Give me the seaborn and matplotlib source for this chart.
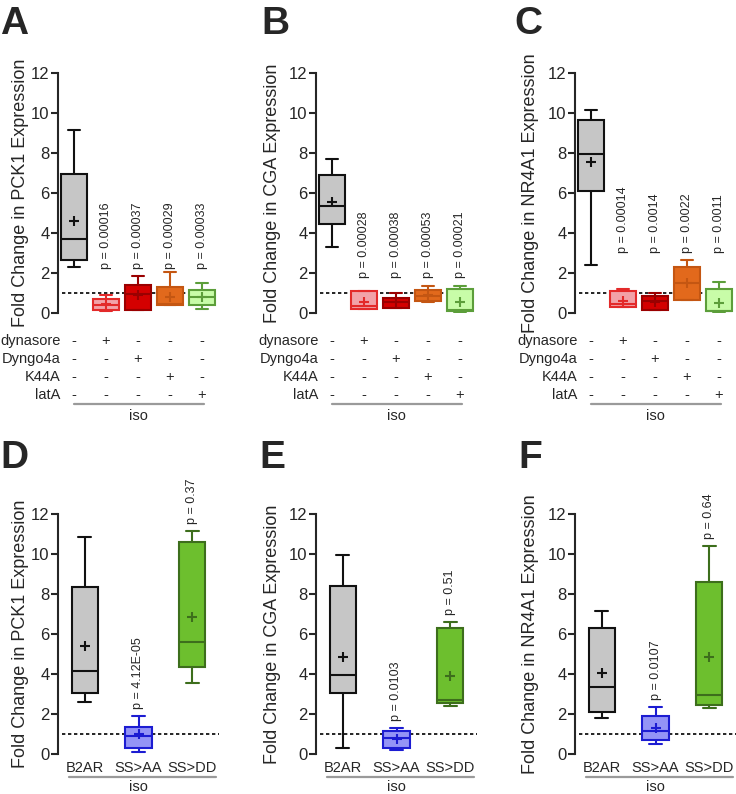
import matplotlib
matplotlib.use("Agg")
import matplotlib.pyplot as plt
import seaborn as sns

# ---- data ----
# box stats per group: [min, q1, median, q3, max]
top_cats = ["ctrl", "dynasore", "Dyngo4a", "K44A", "latA"]
treatments = ["dynasore", "Dyngo4a", "K44A", "latA"]

pck1_top_box = [[2.28, 2.63, 3.72, 6.97, 9.17],
                [0.10, 0.15, 0.40, 0.70, 0.90],
                [0.13, 0.15, 0.95, 1.42, 1.83],
                [0.40, 0.42, 0.45, 1.30, 2.03],
                [0.20, 0.42, 0.78, 1.17, 1.50]]
pck1_top_mean = [4.62, 0.45, 0.92, 0.78, 0.78]
pck1_top_p = ["p = 0.00016", "p = 0.00037", "p = 0.00029", "p = 0.00033"]

cga_top_box = [[3.30, 4.45, 5.35, 6.90, 7.70],
               [0.18, 0.20, 0.35, 1.10, 1.10],
               [0.25, 0.25, 0.55, 0.75, 1.00],
               [0.55, 0.60, 0.85, 1.15, 1.35],
               [0.05, 0.10, 0.15, 1.20, 1.35]]
cga_top_mean = [5.55, 0.55, 0.55, 0.90, 0.55]
cga_top_p = ["p = 0.00028", "p = 0.00038", "p = 0.00053", "p = 0.00021"]

nr4a1_top_box = [[2.38, 6.12, 7.95, 9.63, 10.17],
                 [0.30, 0.30, 0.45, 1.10, 1.20],
                 [0.15, 0.15, 0.60, 0.85, 1.00],
                 [0.65, 0.65, 1.50, 2.30, 2.65],
                 [0.05, 0.08, 0.10, 1.20, 1.55]]
nr4a1_top_mean = [7.53, 0.60, 0.55, 1.50, 0.50]
nr4a1_top_p = ["p = 0.00014", "p = 0.0014", "p = 0.0022", "p = 0.0011"]

bottom_cats = ["B2AR", "SS>AA", "SS>DD"]

pck1_bot_box = [[2.58, 3.03, 4.17, 8.33, 10.87],
                [0.12, 0.28, 0.92, 1.37, 1.90],
                [3.57, 4.37, 5.58, 10.62, 11.17]]
pck1_bot_mean = [5.40, 1.00, 6.83]
pck1_bot_p = [None, "p = 4.12E-05", "p = 0.37"]

cga_bot_box = [[0.28, 3.07, 3.95, 8.40, 9.95],
               [0.20, 0.30, 0.80, 1.15, 1.30],
               [2.40, 2.57, 2.70, 6.32, 6.62]]
cga_bot_mean = [4.87, 0.75, 3.90]
cga_bot_p = [None, "p = 0.0103", "p = 0.51"]

nr4a1_bot_box = [[1.78, 2.08, 3.33, 6.32, 7.17],
                 [0.50, 0.70, 1.15, 1.90, 2.37],
                 [2.28, 2.45, 2.95, 8.62, 10.42]]
nr4a1_bot_mean = [4.03, 1.32, 4.83]
nr4a1_bot_p = [None, "p = 0.0107", "p = 0.64"]

top_fills = ["#c6c6c6", "#f2a2a8", "#d40000", "#e2691c", "#c8fca8"]
top_edges = ["#111111", "#e32a2a", "#9a0000", "#c45612", "#5c9e3a"]
bot_fills = ["#c6c6c6", "#9494f6", "#6dbf2e"]
bot_edges = ["#111111", "#1c1cd2", "#3d6e1c"]

# ---- style ----
sns.set_style("ticks")
plt.rcParams["font.family"] = ["Liberation Sans", "DejaVu Sans"]

W, H = 736, 794
fig = plt.figure(figsize=(W / 100, H / 100), dpi=100)


def add_ax(left, right, top, bottom):
    return fig.add_axes([left / W, 1 - bottom / H, (right - left) / W, (bottom - top) / H])


def draw_boxes(ax, cats, box, means, fills, edges, width):
    ax.axhline(1, xmin=0.025, color="black", lw=1.2, ls=(0, (2, 1.6)), zorder=0)
    for i, cat in enumerate(cats):
        sns.boxplot(x=[cat] * 5, y=box[i], order=cats, color=fills[i],
                    linecolor=edges[i], saturation=1, width=width,
                    linewidth=1.5, whis=(0, 100), ax=ax)
        ax.plot(i, means[i], marker="+", ms=6.5, mew=1.5, color=edges[i], zorder=5)


def style_axis(ax, gene):
    ax.set_ylim(0, 12)
    ax.set_yticks(range(0, 13, 2))
    for s in ["top", "right", "bottom"]:
        ax.spines[s].set_visible(False)
    ax.spines["left"].set_linewidth(1.5)
    ax.tick_params(axis="y", width=1.5, length=5, labelsize=12, pad=1)
    ax.set_xlabel("")
    ax.set_ylabel(f"Fold Change in {gene} Expression", fontsize=13)
    ax.patch.set_alpha(0)


top_panels = [
    ("A", "PCK1", pck1_top_box, pck1_top_mean, pck1_top_p, 58, 218, 2.2, 0, 6, 20),
    ("B", "CGA", cga_top_box, cga_top_mean, cga_top_p, 316, 476, 1.75, 261, 6, 272),
    ("C", "NR4A1", nr4a1_top_box, nr4a1_top_mean, nr4a1_top_p, 575, 735, 3.0, 514, 6, 530),
]

for letter, gene, box, means, pvals, left, right, py, lx, ly, ylx in top_panels:
    ax = add_ax(left, right, 73, 313)
    draw_boxes(ax, top_cats, box, means, top_fills, top_edges, 0.8)
    style_axis(ax, gene)
    ax.set_xlim(-0.5, 4.5)
    ax.set_xticks([])
    ax.yaxis.set_label_coords((ylx + 9 - left) / (right - left), 0.5)
    for j, p in enumerate(pvals):
        ax.text(j + 1, py, p, rotation=90, ha="center", va="bottom", fontsize=9)
    # treatment table under the axis
    trans = ax.get_xaxis_transform()
    for r, name in enumerate(treatments):
        yy = -(341 - 313 + 18 * r) / 240
        ax.text(0.015, yy, name, transform=ax.transAxes, ha="right", va="center", fontsize=10.5)
        for c in range(len(top_cats)):
            mark = "+" if c == r + 1 else "-"
            ax.text(c, yy, mark, transform=trans, ha="center", va="center", fontsize=10.5)
    ax.plot([0, 4.05], [-(404 - 313) / 240] * 2, transform=trans, color="#9a9a9a",
            lw=1.6, clip_on=False)
    ax.text(2.0, -(416 - 313) / 240, "iso", transform=trans, ha="center", va="center",
            fontsize=10.5)
    fig.text(lx / W, 1 - ly / H, letter, fontsize=28, fontweight="bold", ha="left", va="top")

bottom_panels = [
    ("D", "PCK1", pck1_bot_box, pck1_bot_mean, pck1_bot_p, 58, 219, 0, 440, 20),
    ("E", "CGA", cga_bot_box, cga_bot_mean, cga_bot_p, 316, 477, 259, 440, 272),
    ("F", "NR4A1", nr4a1_bot_box, nr4a1_bot_mean, nr4a1_bot_p, 575, 736, 518, 440, 530),
]

for letter, gene, box, means, pvals, left, right, lx, ly, ylx in bottom_panels:
    ax = add_ax(left, right, 514, 754)
    draw_boxes(ax, bottom_cats, box, means, bot_fills, bot_edges, 0.49)
    style_axis(ax, gene)
    ax.set_xlim(-0.5, 2.5)
    ax.tick_params(axis="x", length=0, labelsize=10.5, pad=5)
    ax.yaxis.set_label_coords((ylx + 9 - left) / (right - left), 0.5)
    for j, p in enumerate(pvals):
        if p is not None:
            ax.text(j, box[j][4] + 0.35, p, rotation=90, ha="center", va="bottom", fontsize=9)
    trans = ax.get_xaxis_transform()
    ax.plot([-0.3, 2.45], [-(777 - 754) / 240] * 2, transform=trans, color="#9a9a9a",
            lw=1.6, clip_on=False)
    ax.text(1.0, -(780 - 754) / 240, "iso", transform=trans, ha="center", va="top",
            fontsize=10.5)
    fig.text(lx / W, 1 - ly / H, letter, fontsize=28, fontweight="bold", ha="left", va="top")

fig.savefig("out.png", dpi=100)
